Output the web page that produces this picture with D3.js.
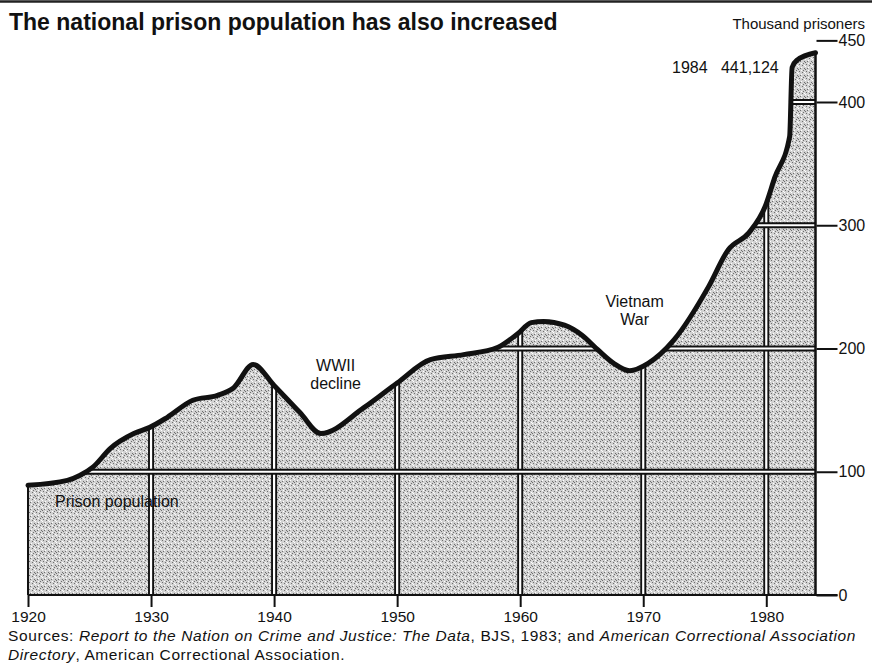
<!DOCTYPE html>
<html>
<head>
<meta charset="utf-8">
<script src="https://cdn.jsdelivr.net/npm/d3@7"></script>
<style>
  html, body { margin: 0; padding: 0; background: #fff; }
  svg { display: block; font-family: "Liberation Sans", Arial, Helvetica, sans-serif; }
</style>
</head>
<body>
<svg id="chart" width="872" height="672"></svg>
<script>
// ---- data ----
const years = [1920, 1923.2, 1924.2, 1925.3, 1926.7, 1928.6, 1929.9, 1931.3, 1933.4, 1935.4, 1936.7,
  1938.3, 1940, 1942.1, 1943.8, 1947.3, 1950, 1952.7, 1955.4, 1958.2, 1959.8, 1960.9, 1961.9,
  1963.6, 1965, 1966.3, 1967.6, 1968.9, 1970.4, 1972.5, 1975.3, 1976.9, 1978.6, 1979.9, 1980.7,
  1981.9, 1982.1, 1982.5, 1984];
const prisoners = [89, 93, 97, 104, 119, 131, 136, 144, 158, 162, 168,
  187, 170, 148, 131, 152, 172, 191, 195, 201, 212, 221, 222,
  219, 211, 199, 188, 182, 188, 207, 250, 280, 294, 315, 339,
  372, 428, 434, 440];
const xTicks = [1920, 1930, 1940, 1950, 1960, 1970, 1980];
const yTicks = [0, 100, 200, 300, 400, 450];
const yTickLabels = ["0", "100", "200", "300", "400", "450"];
const titleText = "The national prison population has also increased";
const unitText = "Thousand prisoners";
const endLabel = ["1984", "441,124"];
const notes = [
  {lines: ["WWII", "decline"], year: 1945.0, value: 182},
  {lines: ["Vietnam", "War"], year: 1969.3, value: 234}
];
const seriesLabel = {text: "Prison population", year: 1922.2, value: 71};

// ---- layout ----
const svg = d3.select("#chart");
const x = d3.scaleLinear().domain([1920, 1984]).range([28, 815.5]);
const y = d3.scaleLinear().domain([0, 400]).range([595, 102]);
const data = years.map((yr, i) => ({year: yr, value: prisoners[i]}));
const FS = "16px";

// top rule
svg.append("line").attr("x1", 0).attr("x2", 872).attr("y1", 1.5).attr("y2", 1.5)
  .attr("stroke", "#222").attr("stroke-width", 2.5);

// stipple pattern
const defs = svg.append("defs");
const pat = defs.append("pattern").attr("id", "stip").attr("patternUnits", "userSpaceOnUse")
  .attr("width", 7).attr("height", 7);
pat.append("rect").attr("width", 7).attr("height", 7).attr("fill", "#d2d2d2");
[[1,1],[4,2],[2,5],[6,5],[5,0],[0,6]].forEach(([a,b]) =>
  pat.append("rect").attr("x", a).attr("y", b).attr("width", 1).attr("height", 1).attr("fill", "#6e6e6e"));
[[0,3],[3,4],[6,2],[3,0]].forEach(([a,b]) =>
  pat.append("rect").attr("x", a).attr("y", b).attr("width", 1).attr("height", 1).attr("fill", "#ffffff"));

const area = d3.area().x(d => x(d.year)).y0(y(0)).y1(d => y(d.value)).curve(d3.curveMonotoneX);
const line = d3.line().x(d => x(d.year)).y(d => y(d.value)).curve(d3.curveMonotoneX);

defs.append("clipPath").attr("id", "areaClip").append("path").attr("d", area(data));

svg.append("path").attr("d", area(data)).attr("fill", "url(#stip)");

// grid lines inside the area (white with dark edges)
const grid = svg.append("g").attr("clip-path", "url(#areaClip)");
xTicks.slice(1).forEach(t => {
  grid.append("line").attr("x1", x(t)).attr("x2", x(t)).attr("y1", 0).attr("y2", 600)
    .attr("stroke", "#111").attr("stroke-width", 6);
  grid.append("line").attr("x1", x(t)).attr("x2", x(t)).attr("y1", 0).attr("y2", 600)
    .attr("stroke", "#fff").attr("stroke-width", 2.2);
});
yTicks.filter(v => v > 0 && v < 450).forEach(v => {
  grid.append("line").attr("x1", 0).attr("x2", 872).attr("y1", y(v)).attr("y2", y(v))
    .attr("stroke", "#111").attr("stroke-width", 6);
  grid.append("line").attr("x1", 0).attr("x2", 872).attr("y1", y(v)).attr("y2", y(v))
    .attr("stroke", "#fff").attr("stroke-width", 2.2);
});

// frame edges
svg.append("line").attr("x1", x(1920)).attr("x2", x(1920)).attr("y1", y(prisoners[0])).attr("y2", y(0))
  .attr("stroke", "#111").attr("stroke-width", 2);
svg.append("line").attr("x1", x(1984)).attr("x2", x(1984)).attr("y1", y(prisoners[prisoners.length-1])).attr("y2", y(0))
  .attr("stroke", "#111").attr("stroke-width", 2.5);

// x axis
const xAxis = d3.axisBottom(x).tickValues(xTicks).tickFormat(d3.format("d")).tickSize(12).tickPadding(4);
const gx = svg.append("g").attr("transform", `translate(0,${y(0)})`).call(xAxis);
gx.select(".domain").attr("d", `M${x(1920)},0H${x(1984) + 22}`).attr("stroke", "#111").attr("stroke-width", 2);
gx.selectAll(".tick line").attr("stroke", "#111").attr("stroke-width", 2);
gx.selectAll(".tick text").attr("fill", "#111").style("font-size", "15.5px")
  .style("font-family", "'Liberation Sans', Arial, sans-serif");

// y axis on right
const yAxis = d3.axisRight(y).tickValues(yTicks).tickFormat((d, i) => yTickLabels[i]).tickSize(21).tickPadding(1);
const gy = svg.append("g").attr("transform", `translate(${x(1984) + 1},0)`).call(yAxis);
gy.select(".domain").remove();
gy.selectAll(".tick line").attr("stroke", "#111").attr("stroke-width", 2);
gy.selectAll(".tick text").attr("fill", "#111").style("font-size", FS)
  .style("font-family", "'Liberation Sans', Arial, sans-serif");

// top curve
svg.append("path").attr("d", line(data)).attr("fill", "none").attr("stroke", "#111")
  .attr("stroke-width", 5).attr("stroke-linejoin", "round").attr("stroke-linecap", "round");

// title
const title = svg.append("text").attr("x", 9).attr("y", 30).attr("font-weight", "bold")
  .attr("fill", "#111").style("font-size", "22px").text(titleText);
const tw = title.node().getComputedTextLength();
title.style("font-size", (22 * 549 / tw).toFixed(2) + "px");

svg.append("text").attr("x", 865).attr("y", 29).attr("text-anchor", "end").attr("fill", "#111")
  .style("font-size", "15px").text(unitText);

svg.append("text").attr("x", 672).attr("y", 73).attr("fill", "#111").style("font-size", FS)
  .attr("xml:space", "preserve").text(endLabel[0] + "   " + endLabel[1]);

notes.forEach(n => {
  const t = svg.append("text").attr("text-anchor", "middle").attr("fill", "#111").style("font-size", FS);
  n.lines.forEach((s, i) => t.append("tspan").attr("x", x(n.year)).attr("y", y(n.value) + i * 18).text(s));
});

svg.append("text").attr("x", x(seriesLabel.year)).attr("y", y(seriesLabel.value)).attr("fill", "#111")
  .style("font-size", FS).text(seriesLabel.text);

// sources
const src1 = [["Sources: ", false], ["Report to the Nation on Crime and Justice: The Data", true],
  [", BJS, 1983; and ", false], ["American Correctional Association", true]];
const src2 = [["Directory", true], [", American Correctional Association.", false]];
const srcTexts = [[src1, 641], [src2, 660]].map(([parts, yy]) => {
  const t = svg.append("text").attr("x", 8).attr("y", yy).attr("fill", "#111").style("font-size", "15.5px");
  parts.forEach(([s, it]) => t.append("tspan").style("font-style", it ? "italic" : "normal").text(s));
  return t;
});
const sw = srcTexts[0].node().getComputedTextLength();
const nChars = src1.map(p => p[0]).join("").length;
const ls = Math.max(0, (848 - sw) / nChars);
srcTexts.forEach(t => t.style("letter-spacing", ls.toFixed(3) + "px"));
</script>
</body>
</html>
